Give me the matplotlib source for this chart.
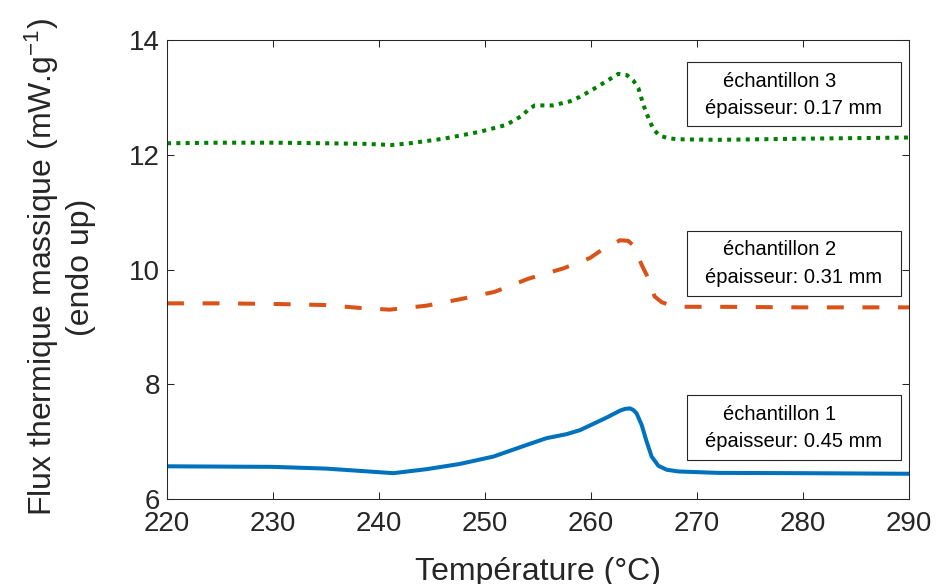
import matplotlib
matplotlib.use("Agg")
import matplotlib.pyplot as plt
from matplotlib.patches import Rectangle

plt.rcParams['font.family'] = ['Liberation Sans', 'DejaVu Sans']
plt.rcParams['mathtext.default'] = 'regular'
plt.rcParams['lines.scale_dashes'] = False

# ---- data ----
temp1 = [220, 225, 230, 235, 238.2, 241.35, 244.5, 247.6, 250.8, 253.9, 255.8, 257.7,
         258.96, 260.22, 261.48, 262.74, 263.2, 263.68, 264.0, 264.31, 264.78, 265.25,
         265.72, 266.35, 267.14, 268.24, 272, 280, 290]
flux1 = [6.57, 6.565, 6.56, 6.53, 6.49, 6.45, 6.52, 6.61, 6.74, 6.94, 7.06, 7.13,
         7.20, 7.31, 7.42, 7.54, 7.57, 7.58, 7.55, 7.49, 7.29, 7.00,
         6.74, 6.58, 6.51, 6.48, 6.455, 6.45, 6.44]

temp2 = [220, 225, 230, 235, 238.2, 241.0, 244.5, 247.6, 250.9, 254.1, 257.4, 259.9,
         261.0, 262.74, 263.5, 264.06, 264.78, 265.4, 266.0, 266.67, 267.45, 268.5,
         272, 280, 290]
flux2 = [9.41, 9.41, 9.40, 9.38, 9.33, 9.30, 9.37, 9.48, 9.61, 9.84, 10.02, 10.20,
         10.34, 10.51, 10.50, 10.41, 10.08, 9.85, 9.53, 9.43, 9.38, 9.35,
         9.35, 9.34, 9.34]

temp3 = [220, 225, 230, 235, 238.7, 241.2, 242.9, 246.1, 249.5, 252.0, 253.5, 254.1,
         254.7, 256.4, 258.0, 258.96, 260.38, 261.79, 262.58, 263.37, 264.0, 264.47,
         264.94, 265.25, 265.57, 265.95, 266.5, 267.3, 268.1, 272, 280, 290]
flux3 = [12.20, 12.21, 12.21, 12.20, 12.19, 12.17, 12.20, 12.28, 12.40, 12.52, 12.68, 12.79,
         12.86, 12.86, 12.93, 13.01, 13.16, 13.32, 13.41, 13.39, 13.29, 13.16,
         12.87, 12.72, 12.57, 12.43, 12.33, 12.29, 12.27, 12.26, 12.28, 12.30]

x_ticks = [220, 230, 240, 250, 260, 270, 280, 290]
y_ticks = [6, 8, 10, 12, 14]
box_line1 = ['échantillon 1', 'échantillon 2', 'échantillon 3']
box_line2 = ['épaisseur: 0.45 mm', 'épaisseur: 0.31 mm', 'épaisseur: 0.17 mm']

# box geometry (data coords): bottom, top, baseline1, baseline2
box_y = [(6.680, 7.813, 7.377, 6.912),
         (9.538, 10.671, 10.248, 9.770),
         (12.501, 13.617, 13.186, 12.710)]

DARK = '#262626'

fig = plt.figure(figsize=(9.36, 5.84), dpi=100)
ax = fig.add_axes([167/936, 1-499/584, 742/936, 459/584])

ax.plot(temp1, flux1, color='#0072BD', lw=2.9, solid_joinstyle='round', solid_capstyle='butt')
ax.plot(temp2, flux2, color='#D95319', lw=2.9, dashes=(12.2, 13.4), dash_capstyle='butt',
        dash_joinstyle='round')
ax.plot(temp3, flux3, color='#008000', lw=2.9, dashes=(2.9, 3.8), dash_capstyle='butt')

ax.set_xlim(220, 290)
ax.set_ylim(6, 14)
ax.set_xticks(x_ticks)
ax.set_yticks(y_ticks)
ax.tick_params(direction='in', length=5, width=0.75, colors=DARK, labelsize=20,
               top=True, right=True)
ax.tick_params(axis='x', pad=8.5)
ax.tick_params(axis='y', pad=5)
for s in ax.spines.values():
    s.set_color(DARK)
    s.set_linewidth(0.75)

ax.set_xlabel('Température (°C)', fontsize=23, color=DARK)
ax.set_ylabel('Flux thermique massique (mW.g$^{-1}$)\n(endo up)', fontsize=23,
              color=DARK, multialignment='center')
ax.xaxis.set_label_coords(0.5, -0.126)
ax.yaxis.set_label_coords(-0.0957, 0.505)

for (yb, yt, b1, b2), l1, l2 in zip(box_y, box_line1, box_line2):
    ax.add_patch(Rectangle((269.1, yb), 289.29 - 269.1, yt - yb, facecolor='white',
                           edgecolor=DARK, lw=0.8, zorder=3))
    ax.text(277.78, b1, l1, ha='center', va='baseline', fontsize=14.5, color='black', zorder=4)
    ax.text(279.12, b2, l2, ha='center', va='baseline', fontsize=14.5, color='black', zorder=4)

fig.savefig('out.png', dpi=100)
